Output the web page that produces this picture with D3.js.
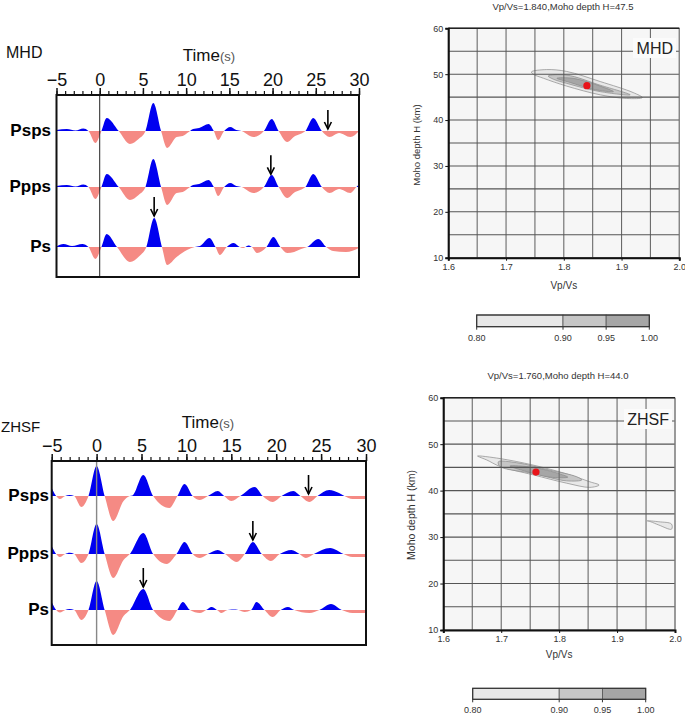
<!DOCTYPE html>
<html>
<head>
<meta charset="utf-8">
<script src="https://cdn.jsdelivr.net/npm/d3@7"></script>
<style>
  body { margin: 0; background: #fff; }
  svg { display: block; font-family: "Liberation Sans", Arial, sans-serif; }
</style>
</head>
<body>
<svg id="chart" width="685" height="716"></svg>
<script>
// ---------------- DATA ----------------
const timeTicks = [-5, 0, 5, 10, 15, 20, 25, 30];
const phaseNames = ["Psps", "Ppps", "Ps"];

// receiver functions: [time (s), relative amplitude]
const mhdPsps = [[-5,1],[-3.8,2],[-2.8,0.5],[-1.9,2.5],[-1.3,0],[-0.5,-12],[0.2,0],[0.8,13],[2.2,0],[3.5,-13],[4.5,-8],[5.3,0],[6.2,28],[7.1,0],[7.8,-17],[8.9,-6],[9.6,-5],[10.3,-1],[10.8,2],[11.5,3],[12.6,7],[13.2,0],[13.7,-9],[14.4,0],[15.1,4],[15.8,1],[16.4,0],[17.8,-6],[19.0,0],[19.9,12],[20.7,0],[21.7,-11],[22.6,-5],[23.2,-3],[23.8,0],[24.7,13],[25.7,0],[26.6,-6],[27.7,-2],[29.0,-6],[30,0]];
const mhdPpps = [[-5,1],[-3.8,2],[-2.8,0.5],[-1.9,2.5],[-1.3,0],[-0.5,-12],[0.2,0],[0.8,13],[2.2,0],[3.5,-13],[4.5,-8],[5.3,0],[6.2,28],[7.1,0],[7.8,-18],[8.9,-6],[9.6,-5],[10.3,-1],[10.8,2],[11.5,3],[12.6,7],[13.2,0],[13.7,-9],[14.4,0],[15.1,4],[15.8,1],[16.4,0],[17.8,-6],[19.0,0],[19.9,12],[20.7,0],[21.7,-11],[22.6,-5],[23.2,-3],[23.8,0],[24.7,13],[25.7,0],[26.6,-6],[27.7,-2],[29.0,-6],[29.7,0],[30,2.5]];
const mhdPs = [[-5,0.5],[-4.2,3],[-3.2,1],[-2,3],[-1.3,0],[-0.5,-12],[0.2,0],[0.8,13],[2.0,0],[3.5,-15],[4.6,-9],[5.4,0],[6.3,29],[7.2,0],[7.8,-18],[8.9,-10],[10.1,-3],[11.0,0],[11.6,1],[12.7,9],[13.4,0],[13.9,-8],[14.7,0],[15.5,4],[16.2,0],[16.6,-1],[17.2,1.5],[17.6,0],[18.2,-6],[19.3,0],[20.1,10],[20.9,0],[21.7,-6],[22.5,-5],[23.3,-2],[24.0,0],[25.3,8],[26.2,0],[27.0,-4],[28.5,-5],[30,-1]];

const zhsfPsps = [[-5,8],[-4.5,0],[-4.1,-3],[-3.5,0],[-3,1],[-2.5,0],[-1.7,-11],[-0.9,0],[0,30],[0.9,0],[1.85,-25],[3.0,-5],[3.7,0],[4.0,0.5],[5.2,21],[6.3,0],[8.1,-12],[9.0,0],[9.8,12],[10.7,0],[11.5,-4],[12.4,0],[13.5,5],[14.2,0],[15.0,-5],[16.0,0],[17.6,9],[18.5,0],[19.6,-6],[20.6,0],[21.9,5],[22.7,0],[23.7,-6],[24.6,0],[25.9,6],[27.0,3],[27.6,0],[28.5,-3],[30,-3]];
const zhsfPpps = [[-5,8],[-4.5,0],[-4.1,-3],[-3.5,0],[-3,1.3],[-2.5,0],[-1.7,-9],[-0.9,0],[0,30],[0.9,0],[1.85,-24],[3.0,-6],[3.7,0],[5.2,21],[6.3,0],[7.8,-10],[8.9,0],[9.8,12],[10.7,0],[11.5,-4],[12.4,0],[13.5,4],[14.3,0],[15.6,-8],[16.5,0],[17.4,12],[18.4,0],[19.4,-7],[20.4,0],[21.7,4],[22.6,0],[23.3,-4],[24.2,0],[26.0,6],[27.5,0],[28.5,-3],[30,-3]];
const zhsfPs = [[-5,8],[-4.5,0],[-4.1,-2.5],[-3.5,0],[-3,1],[-2.5,0],[-1.7,-10],[-0.9,0],[0,29],[0.9,0],[1.85,-25],[3.0,-6],[3.7,0],[5.2,21],[6.3,0],[8.1,-11],[9.0,0],[9.6,8],[10.4,0],[11.5,-3],[12.2,0],[12.8,3],[13.4,0],[13.9,-3],[14.6,0],[15.5,0.5],[16.5,-2],[17.2,0],[17.8,8],[18.7,0],[19.6,-7],[20.5,0],[21.3,3],[22.0,0],[23.7,-3],[24.8,0],[26.1,6],[27.3,0],[28.5,-3],[30,-3]];

// predicted phase arrival times (s) for Psps, Ppps, Ps
const mhdArrivals = [26.4, 19.8, 6.3];
const zhsfArrivals = [23.6, 17.4, 5.2];

// H-k stacking
const vpvsTicks = [1.6, 1.7, 1.8, 1.9, 2.0];
const depthTicks = [10, 20, 30, 40, 50, 60];
const levelBreaks = [0.80, 0.90, 0.95, 1.00];
const levelLabels = ["0.80", "0.90", "0.95", "1.00"];
const levelColors = ["#e8e8e8", "#c6c6c6", "#a6a6a6"];

// contour outlines: [Vp/Vs, H (km)] for levels 0.80, 0.90, 0.95
const mhdC80 = [[1.744,50.5],[1.770,51.0],[1.805,50.6],[1.863,48.4],[1.920,46.0],[1.936,44.9],[1.909,44.7],[1.863,45.5],[1.805,47.4],[1.765,49.1],[1.747,50.0]];
const mhdC90 = [[1.773,49.6],[1.805,49.8],[1.863,47.6],[1.915,45.5],[1.863,46.2],[1.805,48.0],[1.782,48.9]];
const mhdC95 = [[1.788,49.1],[1.816,49.1],[1.863,47.4],[1.886,46.2],[1.851,46.7],[1.811,48.2]];
const mhdBest = [1.840, 47.5];

const zhsfC80 = [[1.659,47.45],[1.698,46.9],[1.755,45.5],[1.813,43.6],[1.853,41.9],[1.869,41.2],[1.853,40.7],[1.813,41.6],[1.755,43.4],[1.698,45.2],[1.675,46.6],[1.663,47.2]];
const zhsfC80b = [[1.952,33.5],[1.972,33.3],[1.994,32.8],[1.994,31.7],[1.972,32.6],[1.958,33.3]];
const zhsfC90 = [[1.695,46.2],[1.727,46.0],[1.784,44.4],[1.830,43.0],[1.839,42.3],[1.813,42.1],[1.755,43.7],[1.698,45.2]];
const zhsfC95 = [[1.715,45.3],[1.755,45.0],[1.801,43.6],[1.815,42.9],[1.784,42.9],[1.744,44.1]];
const zhsfBest = [1.760, 44.0];

// ---------------- DRAWING ----------------
const svg = d3.select("#chart");
svg.append("rect").attr("width", 685).attr("height", 716).attr("fill", "#fff");
const defs = svg.append("defs");

function ampAt(trace, t) {
  const i = d3.bisector(d => d[0]).left(trace, t);
  if (i <= 0) return trace[0][1];
  if (i >= trace.length) return trace[trace.length - 1][1];
  const a = trace[i - 1], b = trace[i];
  return a[1] + (b[1] - a[1]) * (t - a[0]) / (b[0] - a[0]);
}

function tracePanel(cfg) {
  const g = svg.append("g");
  const x = d3.scaleLinear().domain([-5, 30]).range([cfg.x0, cfg.x1]);
  // station name
  g.append("text").attr("x", cfg.nameX).attr("y", cfg.nameY)
    .attr("font-size", cfg.nameSize).attr("fill", "#111").text(cfg.name);
  // Time(s)
  const tt = g.append("text").attr("x", cfg.timeX).attr("y", cfg.timeY)
    .attr("text-anchor", "middle").attr("font-size", 17).attr("fill", "#111");
  tt.append("tspan").text("Time");
  tt.append("tspan").attr("font-size", 13).attr("fill", "#555").text("(s)");

  cfg.traces.forEach((tr, k) => {
    const base = cfg.bases[k];
    const y = d3.scaleLinear().domain([-30, 30]).range([base + 30, base - 30]);
    const id = cfg.id + k;
    defs.append("clipPath").attr("id", "pos" + id).append("rect")
      .attr("x", cfg.x0).attr("y", cfg.y0).attr("width", cfg.x1 - cfg.x0).attr("height", base - cfg.y0);
    defs.append("clipPath").attr("id", "neg" + id).append("rect")
      .attr("x", cfg.x0).attr("y", base).attr("width", cfg.x1 - cfg.x0).attr("height", cfg.y1 - base);
    const area = d3.area().x(d => x(d[0])).y0(base).y1(d => y(d[1])).curve(d3.curveMonotoneX);
    g.append("path").datum(tr).attr("d", area).attr("fill", "#f58a84").attr("clip-path", `url(#neg${id})`);
    g.append("path").datum(tr).attr("d", area).attr("fill", "#0000f0").attr("clip-path", `url(#pos${id})`);
    // phase label
    g.append("text").attr("x", cfg.labelX).attr("y", base + 5).attr("text-anchor", "end")
      .attr("font-size", 17).attr("font-weight", "bold").attr("fill", "#000").text(phaseNames[k]);
    // arrow
    const ta = cfg.arrivals[k];
    const tipY = y(Math.max(ampAt(tr, ta), 0)) - 2;
    const ax = x(ta);
    g.append("line").attr("x1", ax).attr("x2", ax).attr("y1", tipY - 19).attr("y2", tipY)
      .attr("stroke", "#000").attr("stroke-width", 1.6);
    g.append("path").attr("d", `M${ax - 3.5},${tipY - 7}L${ax},${tipY}L${ax + 3.5},${tipY - 7}`)
      .attr("fill", "none").attr("stroke", "#000").attr("stroke-width", 1.6);
  });

  // zero line
  g.append("line").attr("x1", x(0)).attr("x2", x(0)).attr("y1", cfg.y0).attr("y2", cfg.y1)
    .attr("stroke", cfg.zeroColor).attr("stroke-width", cfg.zeroWidth);
  // frame
  g.append("rect").attr("x", cfg.x0).attr("y", cfg.y0).attr("width", cfg.x1 - cfg.x0)
    .attr("height", cfg.y1 - cfg.y0).attr("fill", "none").attr("stroke", "#111").attr("stroke-width", 2);
  // minor ticks
  const minor = g.append("g").attr("transform", `translate(0,${cfg.y0})`)
    .call(d3.axisTop(x).tickValues(d3.range(-5, 31, 1)).tickSize(4).tickFormat(""));
  minor.select(".domain").remove();
  minor.selectAll("line").attr("stroke", "#111").attr("stroke-width", 1.2);
  // major ticks + labels
  const major = g.append("g").attr("transform", `translate(0,${cfg.y0})`)
    .call(d3.axisTop(x).tickValues(timeTicks).tickSize(7).tickPadding(cfg.tickPad));
  major.select(".domain").remove();
  major.selectAll("line").attr("stroke", "#111").attr("stroke-width", 1.5);
  major.selectAll("text").attr("font-size", 18).attr("fill", "#111")
    .attr("font-family", "Liberation Sans, Arial, sans-serif");
}

tracePanel({
  id: "m", name: "MHD", nameX: 6, nameY: 58, nameSize: 16,
  timeX: 209, timeY: 61, x0: 56.5, x1: 359, y0: 95, y1: 277,
  bases: [131, 187, 247], traces: [mhdPsps, mhdPpps, mhdPs], arrivals: mhdArrivals,
  labelX: 51, zeroColor: "#222", zeroWidth: 1, tickPad: 2
});
tracePanel({
  id: "z", name: "ZHSF", nameX: 1, nameY: 432, nameSize: 15,
  timeX: 208, timeY: 428, x0: 51.7, x1: 366, y0: 461, y1: 645,
  bases: [496, 554, 610], traces: [zhsfPsps, zhsfPpps, zhsfPs], arrivals: zhsfArrivals,
  labelX: 49, zeroColor: "#888", zeroWidth: 1.4, tickPad: 2.5
});

function hkPanel(cfg) {
  const g = svg.append("g");
  const x = d3.scaleLinear().domain([1.6, 2.0]).range([cfg.x0, cfg.x1]);
  const y = d3.scaleLinear().domain([10, 60]).range([cfg.y1, cfg.y0]);
  g.append("rect").attr("x", cfg.x0).attr("y", cfg.y0).attr("width", cfg.x1 - cfg.x0)
    .attr("height", cfg.y1 - cfg.y0).attr("fill", "#f6f6f6");
  // contours
  const line = d3.line().x(d => x(d[0])).y(d => y(d[1])).curve(d3.curveCatmullRomClosed.alpha(0.5));
  cfg.contours.forEach(c => {
    g.append("path").attr("d", line(c.pts)).attr("fill", levelColors[c.level])
      .attr("stroke", "#8a8a8a").attr("stroke-width", 0.7);
  });
  // grid
  const vg = d3.range(1.6, 2.0001, 0.05);
  const hg = d3.range(10, 60.001, 5);
  g.selectAll(".vg").data(vg).join("line")
    .attr("x1", d => x(d)).attr("x2", d => x(d)).attr("y1", cfg.y0).attr("y2", cfg.y1)
    .attr("stroke", "#6a6a6a").attr("stroke-width", 1.1);
  g.selectAll(".hg").data(hg).join("line")
    .attr("x1", cfg.x0).attr("x2", cfg.x1).attr("y1", d => y(d)).attr("y2", d => y(d))
    .attr("stroke", "#555").attr("stroke-width", 1.1);
  // best estimate
  g.append("circle").attr("cx", x(cfg.best[0])).attr("cy", y(cfg.best[1])).attr("r", 3.6).attr("fill", "#e8141a");
  // station label
  g.append("rect").attr("x", cfg.boxX).attr("y", cfg.boxY).attr("width", cfg.boxW).attr("height", 20).attr("fill", "#fbfbfb");
  g.append("text").attr("x", cfg.boxX + cfg.boxW - 3).attr("y", cfg.boxY + 16).attr("text-anchor", "end")
    .attr("font-size", 16).attr("fill", "#222").text(cfg.name);
  // frame
  g.append("line").attr("x1", cfg.x1).attr("x2", cfg.x1).attr("y1", cfg.y0).attr("y2", cfg.y1).attr("stroke", "#888").attr("stroke-width", 1);
  g.append("line").attr("x1", cfg.x0).attr("x2", cfg.x1).attr("y1", cfg.y0).attr("y2", cfg.y0).attr("stroke", "#222").attr("stroke-width", 1.6);
  // axes
  const xa = g.append("g").attr("transform", `translate(0,${cfg.y1})`)
    .call(d3.axisBottom(x).tickValues(vpvsTicks).tickFormat(d3.format(".1f")).tickSize(3).tickPadding(3));
  const ya = g.append("g").attr("transform", `translate(${cfg.x0},0)`)
    .call(d3.axisLeft(y).tickValues(depthTicks).tickSize(3).tickPadding(2));
  [xa, ya].forEach(a => {
    a.select(".domain").attr("stroke", "#111").attr("stroke-width", 2);
    a.selectAll("line").attr("stroke", "#111");
    a.selectAll("text").attr("font-size", 9).attr("fill", "#333").attr("font-family", "Liberation Sans, Arial, sans-serif");
  });
  // titles
  g.append("text").attr("x", cfg.titleX).attr("y", cfg.titleY).attr("text-anchor", "middle")
    .attr("font-size", 9.5).attr("fill", "#333").text(cfg.title);
  g.append("text").attr("x", (cfg.x0 + cfg.x1) / 2).attr("y", cfg.xlabY).attr("text-anchor", "middle")
    .attr("font-size", 10).attr("fill", "#333").text("Vp/Vs");
  g.append("text").attr("transform", `translate(${cfg.ylabX},${cfg.ylabY}) rotate(-90)`)
    .attr("text-anchor", "middle").attr("font-size", cfg.ylabSize).attr("fill", "#333").text("Moho depth H (km)");

  // colour bar
  const cb = d3.scaleLinear().domain([0.8, 1.0]).range([cfg.cbX0, cfg.cbX1]);
  const cg = svg.append("g");
  cg.selectAll("rect").data(levelColors).join("rect")
    .attr("x", (d, i) => cb(levelBreaks[i])).attr("y", cfg.cbY)
    .attr("width", (d, i) => cb(levelBreaks[i + 1]) - cb(levelBreaks[i])).attr("height", cfg.cbH)
    .attr("fill", d => d).attr("stroke", "#555").attr("stroke-width", 0.8);
  cg.append("rect").attr("x", cfg.cbX0).attr("y", cfg.cbY).attr("width", cfg.cbX1 - cfg.cbX0)
    .attr("height", cfg.cbH).attr("fill", "none").attr("stroke", "#333").attr("stroke-width", 1.2);
  cg.selectAll("line").data(levelBreaks).join("line")
    .attr("x1", d => cb(d)).attr("x2", d => cb(d)).attr("y1", cfg.cbY + cfg.cbH).attr("y2", cfg.cbY + cfg.cbH + 3)
    .attr("stroke", "#333");
  cg.selectAll("text").data(levelBreaks).join("text")
    .attr("x", d => cb(d)).attr("y", cfg.cbY + cfg.cbH + 14).attr("text-anchor", "middle")
    .attr("font-size", 9).attr("fill", "#333").text((d, i) => levelLabels[i]);
}

hkPanel({
  x0: 448.3, x1: 679.3, y0: 28.3, y1: 257.7, best: mhdBest, name: "MHD",
  contours: [{level: 0, pts: mhdC80}, {level: 1, pts: mhdC90}, {level: 2, pts: mhdC95}],
  boxX: 633, boxY: 38, boxW: 43,
  title: "Vp/Vs=1.840,Moho depth H=47.5", titleX: 563, titleY: 9.5,
  xlabY: 288.5, ylabX: 420, ylabY: 145, ylabSize: 9.5,
  cbX0: 476.7, cbX1: 649.3, cbY: 315, cbH: 11.7
});
hkPanel({
  x0: 443.3, x1: 675, y0: 397.7, y1: 630, best: zhsfBest, name: "ZHSF",
  contours: [{level: 0, pts: zhsfC80}, {level: 0, pts: zhsfC80b}, {level: 1, pts: zhsfC90}, {level: 2, pts: zhsfC95}],
  boxX: 624, boxY: 409, boxW: 48,
  title: "Vp/Vs=1.760,Moho depth H=44.0", titleX: 558, titleY: 378.5,
  xlabY: 658, ylabX: 415, ylabY: 515, ylabSize: 10.5,
  cbX0: 472.7, cbX1: 645.7, cbY: 688.3, cbH: 11
});
</script>
</body>
</html>
